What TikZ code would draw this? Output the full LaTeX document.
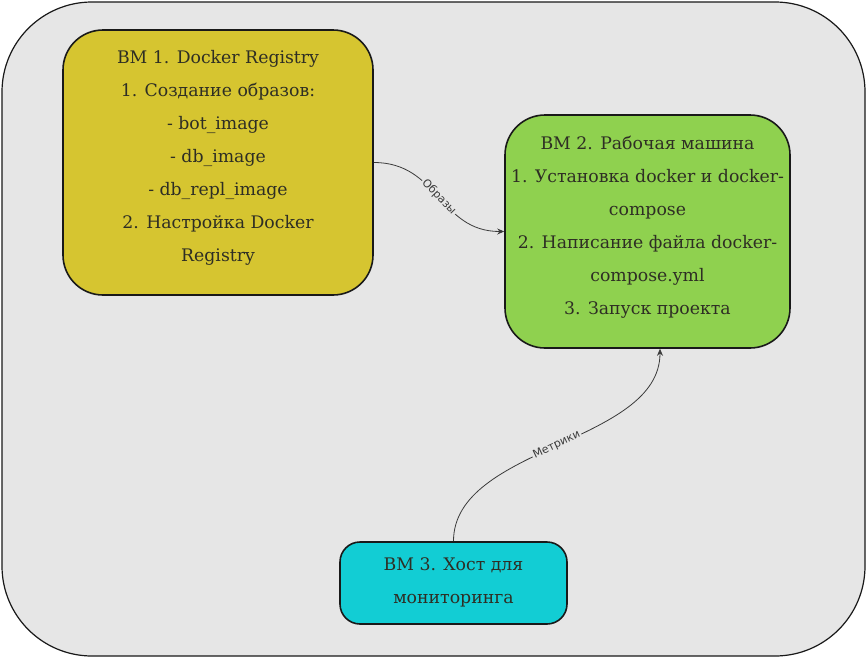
\documentclass[tikz,border=0pt]{standalone}
\usepackage{fontspec}
\setmainfont{DejaVu Serif}
\newfontfamily\boxfont{DejaVu Serif}
\newfontfamily\labfont{DejaVu Sans}
\usetikzlibrary{arrows.meta}
\definecolor{bg}{HTML}{E6E6E6}
\definecolor{yel}{HTML}{D6C530}
\definecolor{grn}{HTML}{8FD14F}
\definecolor{cyn}{HTML}{12CDD4}
\definecolor{txt}{HTML}{2E2E24}
\definecolor{cn}{HTML}{3A3A3A}
\tikzset{
  box/.style={draw=black!90, line width=1.6pt, rectangle, inner sep=0pt},
  btxt/.style={align=center, text=txt, font=\boxfont\fontsize{17.3}{33}\selectfont, inner sep=0pt},
  conn/.style={draw=cn, line width=0.8pt, -{Stealth[length=7pt,width=6pt]}},
  clab/.style={sloped, midway, fill=bg, inner sep=1.5pt, text=cn, font=\labfont\fontsize{11}{13}\selectfont}
}
\begin{document}
\begin{tikzpicture}[x=1pt,y=-1pt]
\useasboundingbox (0,0) rectangle (868,659);
\fill[white] (0,0) rectangle (868,659);
\draw[fill=bg, draw=black!90, line width=1.2pt, rounded corners=90pt] (2,2) rectangle (865,656);

\node[box, fill=yel, rounded corners=40pt, minimum width=310pt, minimum height=265pt] (Y) at (218,162.5) {};
\node[btxt] (Yt) at (218,158) {ВМ 1. Docker Registry\\1. Создание образов:\\- bot\_image\\- db\_image\\- db\_repl\_image\\2. Настройка Docker\\Registry};

\node[box, fill=grn, rounded corners=40pt, minimum width=285pt, minimum height=233pt] (G) at (647.5,231.5) {};
\node[btxt] (Gt) at (647.5,227) {ВМ 2. Рабочая машина\\1. Установка docker и docker-\\compose\\2. Написание файла docker-\\compose.yml\\3. Запуск проекта};

\node[box, fill=cyn, rounded corners=20pt, minimum width=227pt, minimum height=82pt] (C) at (453.5,583) {};
\node[btxt] (Ct) at (453.5,582) {ВМ 3. Хост для\\мониторинга};

\draw[conn] (Y.east) .. controls +(65,0) and +(-65,0) .. (G.west) node[clab] {Образы};
\draw[conn] (C.north) .. controls +(0,-95) and +(0,95) .. ([xshift=12.5pt]G.south) node[clab] {Метрики};
\end{tikzpicture}
\end{document}
